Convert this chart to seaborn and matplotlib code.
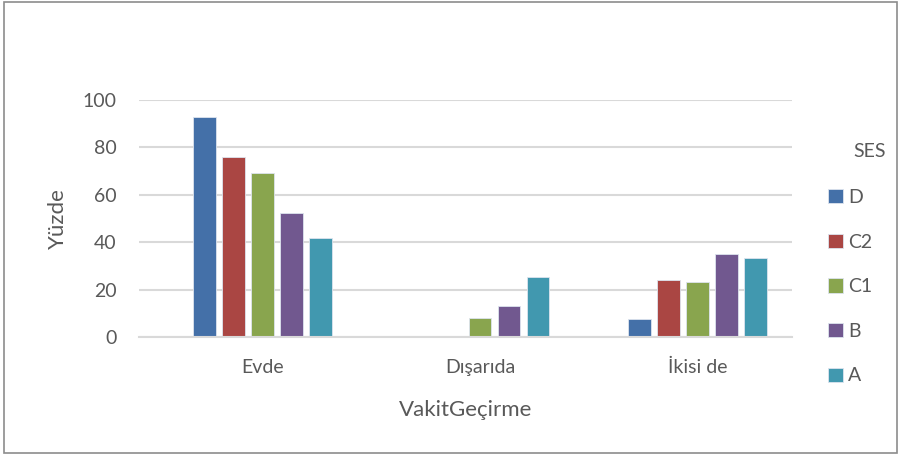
import pandas as pd
import seaborn as sns
import matplotlib.pyplot as plt
from matplotlib.patches import Rectangle

categories = ['Evde', 'Dışarıda', 'İkisi de']
ses_groups = ['D', 'C2', 'C1', 'B', 'A']
values_D = [93, 0, 7.5]
values_C2 = [76, 0, 24.2]
values_C1 = [69.3, 8, 23.2]
values_B = [52.3, 13.2, 35]
values_A = [41.8, 25.2, 33.5]
colors = ['#4470A8', '#AA4643', '#89A54E', '#71588F', '#4198AF']

rows = []
for grp, vals in zip(ses_groups, [values_D, values_C2, values_C1, values_B, values_A]):
    for cat, v in zip(categories, vals):
        rows.append({'VakitGeçirme': cat, 'SES': grp, 'Yüzde': v})
df = pd.DataFrame(rows)

sns.set_style('white')
plt.rcParams['font.family'] = ['Lato', 'DejaVu Sans']
text_col = '#595959'

fig = plt.figure(figsize=(9.02, 4.55), dpi=100)
ax = fig.add_axes([139 / 902, 1 - 337 / 455, 653 / 902, 237 / 455])

sns.barplot(data=df, x='VakitGeçirme', y='Yüzde', hue='SES', hue_order=ses_groups,
            order=categories, palette=colors, width=0.667, gap=0.22, saturation=1,
            edgecolor='#dde4ee', linewidth=0.6, ax=ax)

ax.set_xlim(-0.568, 2.434)
ax.set_ylim(0, 100)
ax.set_yticks([0, 20, 40, 60, 80, 100])
ax.yaxis.grid(True, color='#D9D9D9', linewidth=1.5)
ax.set_axisbelow(True)
for s in ['top', 'right', 'left']:
    ax.spines[s].set_visible(False)
ax.spines['bottom'].set_color('#D9D9D9')
ax.spines['bottom'].set_linewidth(1.5)
ax.tick_params(axis='both', length=0, colors=text_col, labelsize=14)
ax.tick_params(axis='x', pad=16)
ax.tick_params(axis='y', pad=16)
ax.set_xlabel('VakitGeçirme', fontsize=16, color=text_col, labelpad=17)
ax.set_ylabel('Yüzde', fontsize=16, color=text_col, labelpad=11)

handles, labels = ax.get_legend_handles_labels()
ax.legend(handles, labels, loc='upper left', bbox_to_anchor=(828 / 902, 1 - 189 / 455),
          bbox_transform=fig.transFigure, frameon=False, fontsize=14,
          labelcolor=text_col, handlelength=0.75, handleheight=0.75, handletextpad=0.3,
          labelspacing=1.42, borderpad=0, borderaxespad=0)
fig.text(853 / 902, 1 - 152 / 455, 'SES', fontsize=14, color=text_col, va='center', ha='left')

fig.add_artist(Rectangle((0.004, 0.004), 0.991, 0.992, transform=fig.transFigure,
                         fill=False, edgecolor='#8c8c8c', linewidth=1.2))

fig.savefig('out.png', dpi=100)
